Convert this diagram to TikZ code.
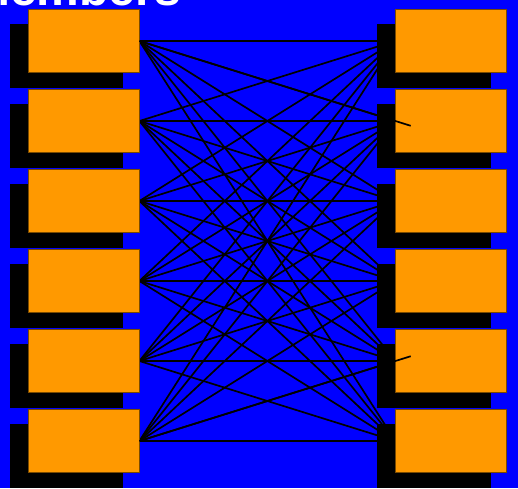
\documentclass[tikz,border=0pt]{standalone}
\usepackage{fontspec}
\setsansfont{Liberation Sans}
\usepackage{xcolor}
\usetikzlibrary{positioning, shadows, backgrounds}
\definecolor{slideblue}{HTML}{0000FF}
\definecolor{memfill}{HTML}{FF9900}
\definecolor{memedge}{HTML}{7A4A00}

\begin{document}
\begin{tikzpicture}[
    x=1pt, y=-1pt,
    node distance=16.2pt,
    member/.style={rectangle, draw=memedge, fill=memfill, line width=0.8pt,
                   minimum width=111pt, minimum height=63pt,
                   general shadow={fill=black, shadow xshift=-17pt, shadow yshift=-15pt,
                                   shadow scale=1.02}},
    link/.style={draw=black, line width=1.7pt}
]

\useasboundingbox (0,0) rectangle (518,488);

% title, mostly above the slide edge
\node[anchor=base east, text=white, inner sep=0pt,
      font=\sffamily\bfseries\fontsize{48}{48}\selectfont] (title) at (181,5) {Members};

% left column
\node[member] (l1) at (83.5,41) {};
\node[member, below=of l1] (l2) {};
\node[member, below=of l2] (l3) {};
\node[member, below=of l3] (l4) {};
\node[member, below=of l4] (l5) {};
\node[member, below=of l5] (l6) {};

% right column
\node[member, right=256pt of l1] (r1) {};
\node[member, below=of r1] (r2) {};
\node[member, below=of r2] (r3) {};
\node[member, below=of r3] (r4) {};
\node[member, below=of r4] (r5) {};
\node[member, below=of r5] (r6) {};

% every member to every member, behind the shadows
\begin{pgfonlayer}{background}
\fill[slideblue] (0,0) rectangle (518,488);
\foreach \i in {1,...,6}
  \foreach \j in {1,...,6}
    \draw[link] (l\i.east) -- (r\j.west);
\end{pgfonlayer}

\draw[link, shorten >=-16pt] (l1.east) -- (r2.west);
\draw[link, shorten >=-16pt] (l6.east) -- (r5.west);

\end{tikzpicture}
\end{document}
